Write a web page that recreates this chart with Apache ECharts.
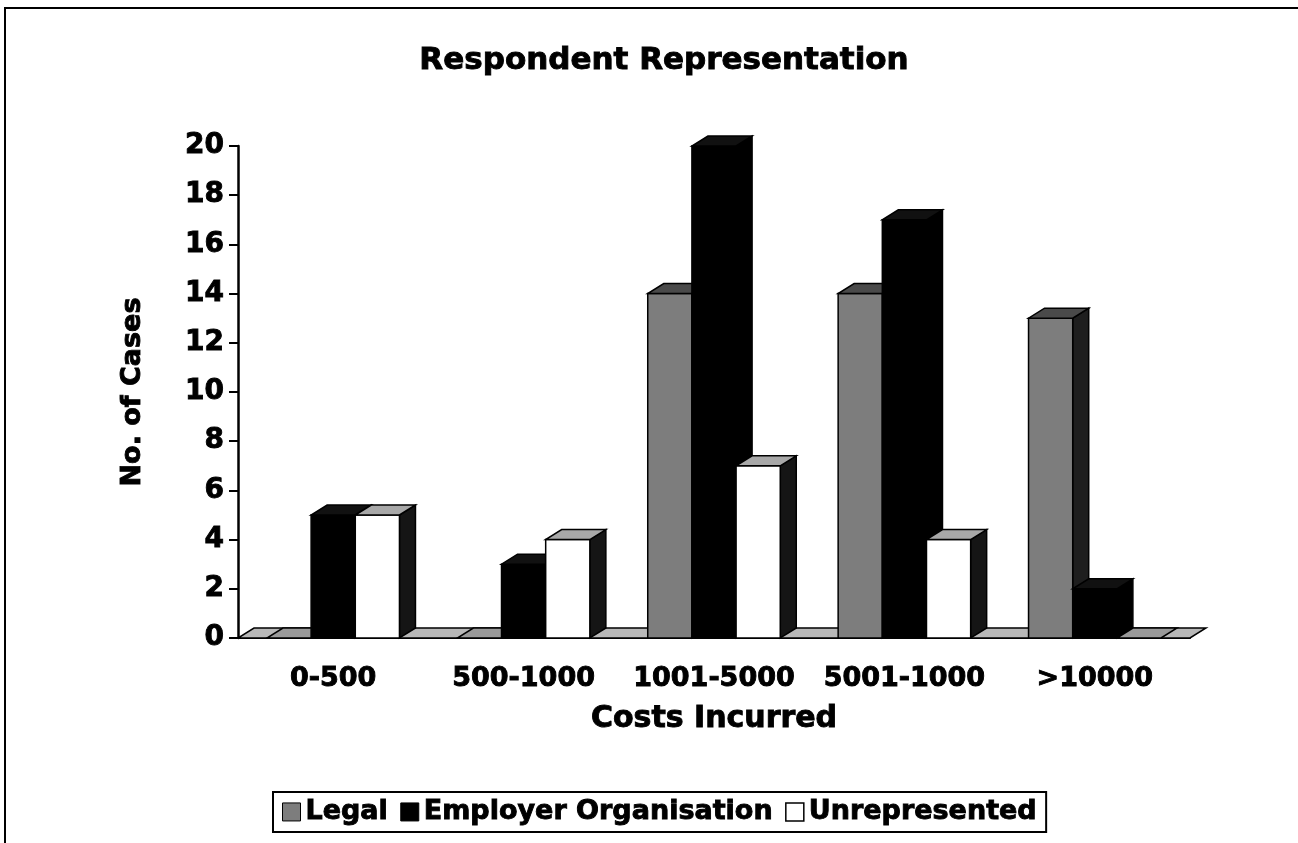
<!DOCTYPE html>
<html>
<head>
<meta charset="utf-8">
<script src="https://cdn.jsdelivr.net/npm/echarts@6/dist/echarts.min.js"></script>
<style>
  html, body { margin: 0; padding: 0; background: #fff; }
  #chart { width: 1298px; height: 843px; }
</style>
</head>
<body>
<div id="chart"></div>
<script>
(function () {
  'use strict';

  const categories = ['0-500', '500-1000', '1001-5000', '5001-1000', '>10000'];
  const seriesNames = ['Legal', 'Employer Organisation', 'Unrepresented'];
  const legalValues = [0, 0, 14, 14, 13];
  const employerValues = [5, 3, 20, 17, 2];
  const unrepresentedValues = [5, 4, 7, 4, 0];
  const yTicks = { min: 0, max: 20, interval: 2 };

  const FONT = '"DejaVu Sans", sans-serif';
  const DX = 16;
  const DY = 10;

  // heavy black text, the scan makes the original look very bold
  function heavy(size) {
    return {
      fontFamily: FONT, fontSize: size, fontWeight: 'bold', color: '#000',
      textBorderColor: '#000', textBorderWidth: 0.9
    };
  }

  // front / top / side fill for each series
  const faces = [
    { front: '#7d7d7d', top: '#4a4a4a', side: '#1e1e1e' },
    { front: '#000000', top: '#111111', side: '#000000' },
    { front: '#ffffff', top: '#a8a8a8', side: '#151515' }
  ];

  function barItem(seriesIndex) {
    return function (params, api) {
      const idx = api.value(0);
      const v = api.value(1);
      const base = api.coord([idx, 0]);
      const top = api.coord([idx, v]);
      const catW = api.size([1, 0])[0];
      const w = catW * 0.232;
      const x0 = base[0] + (seriesIndex - 1) * w - w / 2;
      const x1 = x0 + w;
      const yb = base[1];
      const yt = top[1];
      const f = faces[seriesIndex];
      const stroke = { stroke: '#000', lineWidth: 1.5 };
      const children = [];
      if (v > 0) {
        children.push({
          type: 'polygon',
          shape: { points: [[x1, yt], [x1, yb], [x1 + DX, yb - DY], [x1 + DX, yt - DY]] },
          style: Object.assign({ fill: f.side }, stroke)
        });
        children.push({
          type: 'rect',
          shape: { x: x0, y: yt, width: w, height: yb - yt },
          style: Object.assign({ fill: f.front }, stroke)
        });
      }
      children.push({
        type: 'polygon',
        shape: { points: [[x0, yt], [x1, yt], [x1 + DX, yt - DY], [x0 + DX, yt - DY]] },
        style: Object.assign({ fill: v > 0 ? f.top : '#9a9a9a' }, stroke)
      });
      return { type: 'group', children };
    };
  }

  function floorItem(params, api) {
    const first = api.coord([0, 0]);
    const last = api.coord([categories.length - 1, 0]);
    const half = api.size([1, 0])[0] / 2;
    const xa = first[0] - half;
    const xb = last[0] + half;
    const y = first[1];
    return {
      type: 'polygon',
      shape: { points: [[xa, y], [xb, y], [xb + DX, y - DY], [xa + DX, y - DY]] },
      style: { fill: '#b8b8b8', stroke: '#000', lineWidth: 1.5 }
    };
  }

  const valueSets = [legalValues, employerValues, unrepresentedValues];

  const chart = echarts.init(document.getElementById('chart'), null, { renderer: 'canvas' });

  chart.setOption({
    animation: false,
    backgroundColor: '#fff',
    title: {
      text: 'Respondent Representation',
      left: 659,
      top: 40,
      textAlign: 'center',
      textStyle: heavy(31)
    },
    graphic: [{
      type: 'rect',
      shape: { x: 5, y: 8, width: 1310, height: 860 },
      style: { fill: 'none', stroke: '#000', lineWidth: 2 },
      silent: true
    }],
    legend: {
      data: [
        { name: seriesNames[0], itemStyle: { color: '#7d7d7d', borderColor: '#000', borderWidth: 1 } },
        { name: seriesNames[1], itemStyle: { color: '#000', borderColor: '#000', borderWidth: 1 } },
        { name: seriesNames[2], itemStyle: { color: '#fff', borderColor: '#000', borderWidth: 1.5 } }
      ],
      left: 273,
      top: 792,
      icon: 'rect',
      itemWidth: 18,
      itemHeight: 18,
      itemGap: 12,
      padding: [6, 9, 6, 9],
      borderColor: '#000',
      borderWidth: 2,
      selectedMode: false,
      textStyle: heavy(27)
    },
    grid: { left: 238, right: 108, top: 146, bottom: 205 },
    xAxis: {
      type: 'category',
      data: categories,
      name: 'Costs Incurred',
      nameLocation: 'middle',
      nameGap: 66,
      nameTextStyle: heavy(30),
      axisLine: { lineStyle: { color: '#000', width: 2 } },
      axisTick: { length: 10, lineStyle: { color: '#000', width: 2.5 } },
      axisLabel: Object.assign(heavy(27), { interval: 0, margin: 27 }),
      splitLine: { show: false }
    },
    yAxis: {
      type: 'value',
      min: yTicks.min,
      max: yTicks.max,
      interval: yTicks.interval,
      name: 'No. of Cases',
      nameLocation: 'middle',
      nameGap: 92,
      nameRotate: 90,
      nameTextStyle: heavy(27),
      axisLine: { show: true, lineStyle: { color: '#000', width: 2.5 } },
      axisTick: { show: true, length: 9, lineStyle: { color: '#000', width: 2 } },
      axisLabel: Object.assign(heavy(28), { margin: 14 }),
      splitLine: { show: false }
    },
    series: [
      {
        type: 'custom',
        silent: true,
        renderItem: floorItem,
        data: [[0, 0]],
        z: 1
      }
    ].concat(valueSets.map((values, s) => ({
      name: seriesNames[s],
      type: 'custom',
      silent: true,
      renderItem: barItem(s),
      itemStyle: { color: faces[s].front },
      data: values.map((v, i) => [i, v]),
      z: 2 + s
    })))
  });

  window.addEventListener('resize', () => chart.resize());
})();
</script>
</body>
</html>
